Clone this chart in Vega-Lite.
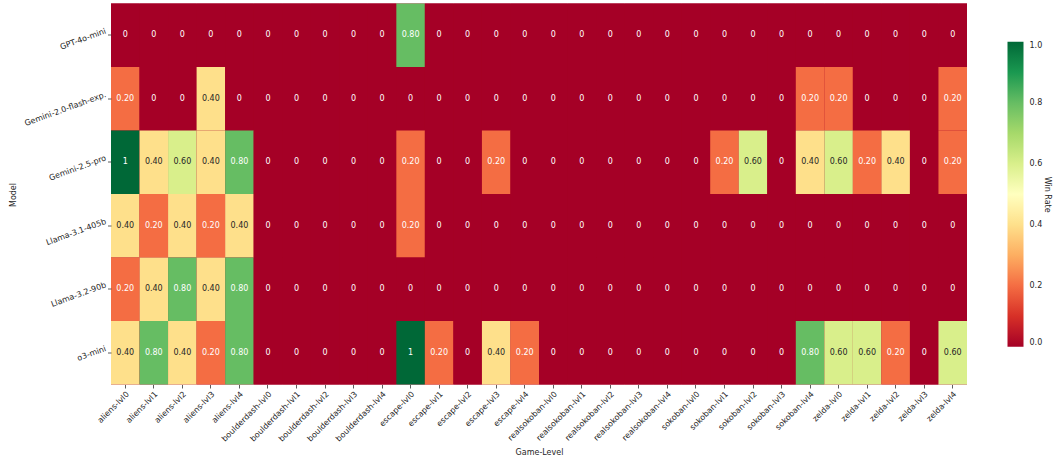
{
  "$schema": "https://vega.github.io/schema/vega-lite/v6.json",
  "width": 856,
  "height": 381,
  "autosize": {"type": "none"},
  "padding": {"left": 111, "top": 3.5, "right": 86, "bottom": 74.5},
  "background": "white",
  "config": {
    "view": {"stroke": null, "fill": "#a50026"},
    "font": "DejaVu Sans",
    "axis": {
      "domain": false,
      "grid": false,
      "ticks": true,
      "tickSize": 3.5,
      "tickColor": "#333333",
      "tickWidth": 0.8,
      "labelFontSize": 8,
      "labelColor": "#262626",
      "titleFontSize": 8,
      "titleFontWeight": "normal",
      "titleColor": "#262626",
      "labelPadding": 2
    }
  },
  "datasets": {
    "cells": [
      {"m": "GPT-4o-mini", "g": "aliens-lvl0", "v": 0},
      {"m": "GPT-4o-mini", "g": "aliens-lvl1", "v": 0},
      {"m": "GPT-4o-mini", "g": "aliens-lvl2", "v": 0},
      {"m": "GPT-4o-mini", "g": "aliens-lvl3", "v": 0},
      {"m": "GPT-4o-mini", "g": "aliens-lvl4", "v": 0},
      {"m": "GPT-4o-mini", "g": "boulderdash-lvl0", "v": 0},
      {"m": "GPT-4o-mini", "g": "boulderdash-lvl1", "v": 0},
      {"m": "GPT-4o-mini", "g": "boulderdash-lvl2", "v": 0},
      {"m": "GPT-4o-mini", "g": "boulderdash-lvl3", "v": 0},
      {"m": "GPT-4o-mini", "g": "boulderdash-lvl4", "v": 0},
      {"m": "GPT-4o-mini", "g": "escape-lvl0", "v": 0.8},
      {"m": "GPT-4o-mini", "g": "escape-lvl1", "v": 0},
      {"m": "GPT-4o-mini", "g": "escape-lvl2", "v": 0},
      {"m": "GPT-4o-mini", "g": "escape-lvl3", "v": 0},
      {"m": "GPT-4o-mini", "g": "escape-lvl4", "v": 0},
      {"m": "GPT-4o-mini", "g": "realsokoban-lvl0", "v": 0},
      {"m": "GPT-4o-mini", "g": "realsokoban-lvl1", "v": 0},
      {"m": "GPT-4o-mini", "g": "realsokoban-lvl2", "v": 0},
      {"m": "GPT-4o-mini", "g": "realsokoban-lvl3", "v": 0},
      {"m": "GPT-4o-mini", "g": "realsokoban-lvl4", "v": 0},
      {"m": "GPT-4o-mini", "g": "sokoban-lvl0", "v": 0},
      {"m": "GPT-4o-mini", "g": "sokoban-lvl1", "v": 0},
      {"m": "GPT-4o-mini", "g": "sokoban-lvl2", "v": 0},
      {"m": "GPT-4o-mini", "g": "sokoban-lvl3", "v": 0},
      {"m": "GPT-4o-mini", "g": "sokoban-lvl4", "v": 0},
      {"m": "GPT-4o-mini", "g": "zelda-lvl0", "v": 0},
      {"m": "GPT-4o-mini", "g": "zelda-lvl1", "v": 0},
      {"m": "GPT-4o-mini", "g": "zelda-lvl2", "v": 0},
      {"m": "GPT-4o-mini", "g": "zelda-lvl3", "v": 0},
      {"m": "GPT-4o-mini", "g": "zelda-lvl4", "v": 0},

      {"m": "Gemini-2.0-flash-exp.", "g": "aliens-lvl0", "v": 0.2},
      {"m": "Gemini-2.0-flash-exp.", "g": "aliens-lvl1", "v": 0},
      {"m": "Gemini-2.0-flash-exp.", "g": "aliens-lvl2", "v": 0},
      {"m": "Gemini-2.0-flash-exp.", "g": "aliens-lvl3", "v": 0.4},
      {"m": "Gemini-2.0-flash-exp.", "g": "aliens-lvl4", "v": 0},
      {"m": "Gemini-2.0-flash-exp.", "g": "boulderdash-lvl0", "v": 0},
      {"m": "Gemini-2.0-flash-exp.", "g": "boulderdash-lvl1", "v": 0},
      {"m": "Gemini-2.0-flash-exp.", "g": "boulderdash-lvl2", "v": 0},
      {"m": "Gemini-2.0-flash-exp.", "g": "boulderdash-lvl3", "v": 0},
      {"m": "Gemini-2.0-flash-exp.", "g": "boulderdash-lvl4", "v": 0},
      {"m": "Gemini-2.0-flash-exp.", "g": "escape-lvl0", "v": 0},
      {"m": "Gemini-2.0-flash-exp.", "g": "escape-lvl1", "v": 0},
      {"m": "Gemini-2.0-flash-exp.", "g": "escape-lvl2", "v": 0},
      {"m": "Gemini-2.0-flash-exp.", "g": "escape-lvl3", "v": 0},
      {"m": "Gemini-2.0-flash-exp.", "g": "escape-lvl4", "v": 0},
      {"m": "Gemini-2.0-flash-exp.", "g": "realsokoban-lvl0", "v": 0},
      {"m": "Gemini-2.0-flash-exp.", "g": "realsokoban-lvl1", "v": 0},
      {"m": "Gemini-2.0-flash-exp.", "g": "realsokoban-lvl2", "v": 0},
      {"m": "Gemini-2.0-flash-exp.", "g": "realsokoban-lvl3", "v": 0},
      {"m": "Gemini-2.0-flash-exp.", "g": "realsokoban-lvl4", "v": 0},
      {"m": "Gemini-2.0-flash-exp.", "g": "sokoban-lvl0", "v": 0},
      {"m": "Gemini-2.0-flash-exp.", "g": "sokoban-lvl1", "v": 0},
      {"m": "Gemini-2.0-flash-exp.", "g": "sokoban-lvl2", "v": 0},
      {"m": "Gemini-2.0-flash-exp.", "g": "sokoban-lvl3", "v": 0},
      {"m": "Gemini-2.0-flash-exp.", "g": "sokoban-lvl4", "v": 0.2},
      {"m": "Gemini-2.0-flash-exp.", "g": "zelda-lvl0", "v": 0.2},
      {"m": "Gemini-2.0-flash-exp.", "g": "zelda-lvl1", "v": 0},
      {"m": "Gemini-2.0-flash-exp.", "g": "zelda-lvl2", "v": 0},
      {"m": "Gemini-2.0-flash-exp.", "g": "zelda-lvl3", "v": 0},
      {"m": "Gemini-2.0-flash-exp.", "g": "zelda-lvl4", "v": 0.2},

      {"m": "Gemini-2.5-pro", "g": "aliens-lvl0", "v": 1},
      {"m": "Gemini-2.5-pro", "g": "aliens-lvl1", "v": 0.4},
      {"m": "Gemini-2.5-pro", "g": "aliens-lvl2", "v": 0.6},
      {"m": "Gemini-2.5-pro", "g": "aliens-lvl3", "v": 0.4},
      {"m": "Gemini-2.5-pro", "g": "aliens-lvl4", "v": 0.8},
      {"m": "Gemini-2.5-pro", "g": "boulderdash-lvl0", "v": 0},
      {"m": "Gemini-2.5-pro", "g": "boulderdash-lvl1", "v": 0},
      {"m": "Gemini-2.5-pro", "g": "boulderdash-lvl2", "v": 0},
      {"m": "Gemini-2.5-pro", "g": "boulderdash-lvl3", "v": 0},
      {"m": "Gemini-2.5-pro", "g": "boulderdash-lvl4", "v": 0},
      {"m": "Gemini-2.5-pro", "g": "escape-lvl0", "v": 0.2},
      {"m": "Gemini-2.5-pro", "g": "escape-lvl1", "v": 0},
      {"m": "Gemini-2.5-pro", "g": "escape-lvl2", "v": 0},
      {"m": "Gemini-2.5-pro", "g": "escape-lvl3", "v": 0.2},
      {"m": "Gemini-2.5-pro", "g": "escape-lvl4", "v": 0},
      {"m": "Gemini-2.5-pro", "g": "realsokoban-lvl0", "v": 0},
      {"m": "Gemini-2.5-pro", "g": "realsokoban-lvl1", "v": 0},
      {"m": "Gemini-2.5-pro", "g": "realsokoban-lvl2", "v": 0},
      {"m": "Gemini-2.5-pro", "g": "realsokoban-lvl3", "v": 0},
      {"m": "Gemini-2.5-pro", "g": "realsokoban-lvl4", "v": 0},
      {"m": "Gemini-2.5-pro", "g": "sokoban-lvl0", "v": 0},
      {"m": "Gemini-2.5-pro", "g": "sokoban-lvl1", "v": 0.2},
      {"m": "Gemini-2.5-pro", "g": "sokoban-lvl2", "v": 0.6},
      {"m": "Gemini-2.5-pro", "g": "sokoban-lvl3", "v": 0},
      {"m": "Gemini-2.5-pro", "g": "sokoban-lvl4", "v": 0.4},
      {"m": "Gemini-2.5-pro", "g": "zelda-lvl0", "v": 0.6},
      {"m": "Gemini-2.5-pro", "g": "zelda-lvl1", "v": 0.2},
      {"m": "Gemini-2.5-pro", "g": "zelda-lvl2", "v": 0.4},
      {"m": "Gemini-2.5-pro", "g": "zelda-lvl3", "v": 0},
      {"m": "Gemini-2.5-pro", "g": "zelda-lvl4", "v": 0.2},

      {"m": "Llama-3.1-405b", "g": "aliens-lvl0", "v": 0.4},
      {"m": "Llama-3.1-405b", "g": "aliens-lvl1", "v": 0.2},
      {"m": "Llama-3.1-405b", "g": "aliens-lvl2", "v": 0.4},
      {"m": "Llama-3.1-405b", "g": "aliens-lvl3", "v": 0.2},
      {"m": "Llama-3.1-405b", "g": "aliens-lvl4", "v": 0.4},
      {"m": "Llama-3.1-405b", "g": "boulderdash-lvl0", "v": 0},
      {"m": "Llama-3.1-405b", "g": "boulderdash-lvl1", "v": 0},
      {"m": "Llama-3.1-405b", "g": "boulderdash-lvl2", "v": 0},
      {"m": "Llama-3.1-405b", "g": "boulderdash-lvl3", "v": 0},
      {"m": "Llama-3.1-405b", "g": "boulderdash-lvl4", "v": 0},
      {"m": "Llama-3.1-405b", "g": "escape-lvl0", "v": 0.2},
      {"m": "Llama-3.1-405b", "g": "escape-lvl1", "v": 0},
      {"m": "Llama-3.1-405b", "g": "escape-lvl2", "v": 0},
      {"m": "Llama-3.1-405b", "g": "escape-lvl3", "v": 0},
      {"m": "Llama-3.1-405b", "g": "escape-lvl4", "v": 0},
      {"m": "Llama-3.1-405b", "g": "realsokoban-lvl0", "v": 0},
      {"m": "Llama-3.1-405b", "g": "realsokoban-lvl1", "v": 0},
      {"m": "Llama-3.1-405b", "g": "realsokoban-lvl2", "v": 0},
      {"m": "Llama-3.1-405b", "g": "realsokoban-lvl3", "v": 0},
      {"m": "Llama-3.1-405b", "g": "realsokoban-lvl4", "v": 0},
      {"m": "Llama-3.1-405b", "g": "sokoban-lvl0", "v": 0},
      {"m": "Llama-3.1-405b", "g": "sokoban-lvl1", "v": 0},
      {"m": "Llama-3.1-405b", "g": "sokoban-lvl2", "v": 0},
      {"m": "Llama-3.1-405b", "g": "sokoban-lvl3", "v": 0},
      {"m": "Llama-3.1-405b", "g": "sokoban-lvl4", "v": 0},
      {"m": "Llama-3.1-405b", "g": "zelda-lvl0", "v": 0},
      {"m": "Llama-3.1-405b", "g": "zelda-lvl1", "v": 0},
      {"m": "Llama-3.1-405b", "g": "zelda-lvl2", "v": 0},
      {"m": "Llama-3.1-405b", "g": "zelda-lvl3", "v": 0},
      {"m": "Llama-3.1-405b", "g": "zelda-lvl4", "v": 0},

      {"m": "Llama-3.2-90b", "g": "aliens-lvl0", "v": 0.2},
      {"m": "Llama-3.2-90b", "g": "aliens-lvl1", "v": 0.4},
      {"m": "Llama-3.2-90b", "g": "aliens-lvl2", "v": 0.8},
      {"m": "Llama-3.2-90b", "g": "aliens-lvl3", "v": 0.4},
      {"m": "Llama-3.2-90b", "g": "aliens-lvl4", "v": 0.8},
      {"m": "Llama-3.2-90b", "g": "boulderdash-lvl0", "v": 0},
      {"m": "Llama-3.2-90b", "g": "boulderdash-lvl1", "v": 0},
      {"m": "Llama-3.2-90b", "g": "boulderdash-lvl2", "v": 0},
      {"m": "Llama-3.2-90b", "g": "boulderdash-lvl3", "v": 0},
      {"m": "Llama-3.2-90b", "g": "boulderdash-lvl4", "v": 0},
      {"m": "Llama-3.2-90b", "g": "escape-lvl0", "v": 0},
      {"m": "Llama-3.2-90b", "g": "escape-lvl1", "v": 0},
      {"m": "Llama-3.2-90b", "g": "escape-lvl2", "v": 0},
      {"m": "Llama-3.2-90b", "g": "escape-lvl3", "v": 0},
      {"m": "Llama-3.2-90b", "g": "escape-lvl4", "v": 0},
      {"m": "Llama-3.2-90b", "g": "realsokoban-lvl0", "v": 0},
      {"m": "Llama-3.2-90b", "g": "realsokoban-lvl1", "v": 0},
      {"m": "Llama-3.2-90b", "g": "realsokoban-lvl2", "v": 0},
      {"m": "Llama-3.2-90b", "g": "realsokoban-lvl3", "v": 0},
      {"m": "Llama-3.2-90b", "g": "realsokoban-lvl4", "v": 0},
      {"m": "Llama-3.2-90b", "g": "sokoban-lvl0", "v": 0},
      {"m": "Llama-3.2-90b", "g": "sokoban-lvl1", "v": 0},
      {"m": "Llama-3.2-90b", "g": "sokoban-lvl2", "v": 0},
      {"m": "Llama-3.2-90b", "g": "sokoban-lvl3", "v": 0},
      {"m": "Llama-3.2-90b", "g": "sokoban-lvl4", "v": 0},
      {"m": "Llama-3.2-90b", "g": "zelda-lvl0", "v": 0},
      {"m": "Llama-3.2-90b", "g": "zelda-lvl1", "v": 0},
      {"m": "Llama-3.2-90b", "g": "zelda-lvl2", "v": 0},
      {"m": "Llama-3.2-90b", "g": "zelda-lvl3", "v": 0},
      {"m": "Llama-3.2-90b", "g": "zelda-lvl4", "v": 0},

      {"m": "o3-mini", "g": "aliens-lvl0", "v": 0.4},
      {"m": "o3-mini", "g": "aliens-lvl1", "v": 0.8},
      {"m": "o3-mini", "g": "aliens-lvl2", "v": 0.4},
      {"m": "o3-mini", "g": "aliens-lvl3", "v": 0.2},
      {"m": "o3-mini", "g": "aliens-lvl4", "v": 0.8},
      {"m": "o3-mini", "g": "boulderdash-lvl0", "v": 0},
      {"m": "o3-mini", "g": "boulderdash-lvl1", "v": 0},
      {"m": "o3-mini", "g": "boulderdash-lvl2", "v": 0},
      {"m": "o3-mini", "g": "boulderdash-lvl3", "v": 0},
      {"m": "o3-mini", "g": "boulderdash-lvl4", "v": 0},
      {"m": "o3-mini", "g": "escape-lvl0", "v": 1},
      {"m": "o3-mini", "g": "escape-lvl1", "v": 0.2},
      {"m": "o3-mini", "g": "escape-lvl2", "v": 0},
      {"m": "o3-mini", "g": "escape-lvl3", "v": 0.4},
      {"m": "o3-mini", "g": "escape-lvl4", "v": 0.2},
      {"m": "o3-mini", "g": "realsokoban-lvl0", "v": 0},
      {"m": "o3-mini", "g": "realsokoban-lvl1", "v": 0},
      {"m": "o3-mini", "g": "realsokoban-lvl2", "v": 0},
      {"m": "o3-mini", "g": "realsokoban-lvl3", "v": 0},
      {"m": "o3-mini", "g": "realsokoban-lvl4", "v": 0},
      {"m": "o3-mini", "g": "sokoban-lvl0", "v": 0},
      {"m": "o3-mini", "g": "sokoban-lvl1", "v": 0},
      {"m": "o3-mini", "g": "sokoban-lvl2", "v": 0},
      {"m": "o3-mini", "g": "sokoban-lvl3", "v": 0},
      {"m": "o3-mini", "g": "sokoban-lvl4", "v": 0.8},
      {"m": "o3-mini", "g": "zelda-lvl0", "v": 0.6},
      {"m": "o3-mini", "g": "zelda-lvl1", "v": 0.6},
      {"m": "o3-mini", "g": "zelda-lvl2", "v": 0.2},
      {"m": "o3-mini", "g": "zelda-lvl3", "v": 0},
      {"m": "o3-mini", "g": "zelda-lvl4", "v": 0.6}
    ]
  },
  "data": {"name": "cells"},
  "transform": [
    {"calculate": "datum.v == 0 ? '0' : (datum.v == 1 ? '1' : format(datum.v, '.2f'))", "as": "label"}
  ],
  "encoding": {
    "x": {
      "field": "g", "type": "nominal", "sort": null,
      "scale": {"paddingInner": 0, "paddingOuter": 0},
      "axis": {
        "title": "Game-Level",
        "labelAngle": -45,
        "labelAlign": "right",
        "labelBaseline": "top",
        "titleY": 68,
        "titleBaseline": "middle"
      }
    },
    "y": {
      "field": "m", "type": "nominal", "sort": null,
      "scale": {"paddingInner": 0, "paddingOuter": 0},
      "axis": {
        "title": "Model",
        "labelAngle": -20,
        "labelAlign": "right",
        "labelBaseline": "middle",
        "labelOffset": -4,
        "titleX": -98,
        "titleY": 191,
        "titleAlign": "center",
        "titleBaseline": "middle"
      }
    }
  },
  "layer": [
    {
      "mark": {"type": "rect"},
      "encoding": {
        "color": {
          "field": "v", "type": "quantitative",
          "scale": {
            "domain": [0, 0.1, 0.2, 0.3, 0.4, 0.5, 0.6, 0.7, 0.8, 0.9, 1],
            "range": ["#a50026", "#d73027", "#f46d43", "#fdae61", "#fee08b", "#ffffbf", "#d9ef8b", "#a6d96a", "#66bd63", "#1a9850", "#006837"],
            "interpolate": "rgb"
          },
          "legend": {
            "orient": "none",
            "legendX": 896.5,
            "legendY": 38.2,
            "direction": "vertical",
            "gradientLength": 305,
            "gradientThickness": 16,
            "gradientStrokeWidth": 0,
            "values": [0, 0.2, 0.4, 0.6, 0.8, 1],
            "format": ".1f",
            "labelFontSize": 8,
            "labelColor": "#262626",
            "labelOffset": 6,
            "title": "Win Rate",
            "titleOrient": "right",
            "titleAngle": 270,
            "titleFontSize": 8,
            "titleFontWeight": "normal",
            "titleColor": "#262626",
            "titleAnchor": "middle",
            "titlePadding": 0
          }
        }
      }
    },
    {
      "mark": {"type": "text", "fontSize": 8},
      "encoding": {
        "text": {"field": "label"},
        "color": {
          "condition": {"test": "datum.v > 0.3 && datum.v < 0.7", "value": "#262626"},
          "value": "#ffffff"
        }
      }
    }
  ]
}
